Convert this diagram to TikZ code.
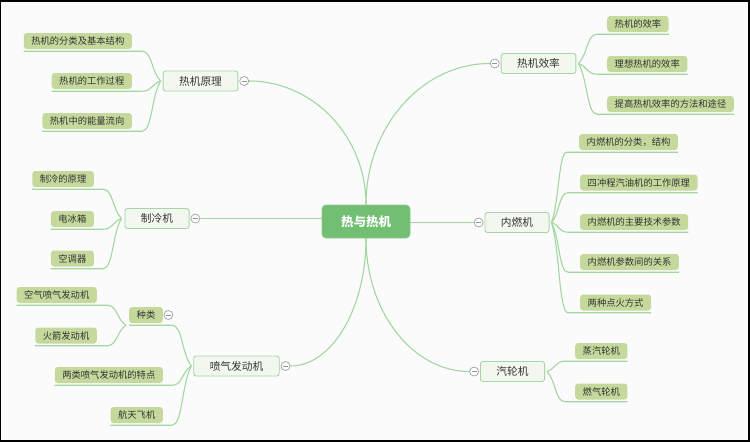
\documentclass[tikz,border=0pt]{standalone}
\usepackage{fontspec}
\newfontfamily\cjk{Noto Sans CJK SC}
\usetikzlibrary{calc}
\definecolor{linec}{HTML}{A3D7A0}
\definecolor{leaff}{HTML}{C6D99C}
\definecolor{subf}{HTML}{F2F8F0}
\definecolor{subd}{HTML}{A6D7A2}
\definecolor{cenf}{HTML}{72BF74}
\definecolor{bgc}{HTML}{FBFBFB}
\definecolor{txt}{HTML}{333333}
\pgfdeclarelayer{bgl}\pgfdeclarelayer{lines}\pgfsetlayers{bgl,lines,main}
\begin{document}
\begin{tikzpicture}[x=1pt,y=-1pt,
 leaf/.style={fill=leaff, rounded corners=3pt, minimum height=16pt, inner xsep=7.5pt, inner ysep=0pt, font=\cjk\fontsize{9.3}{11}\selectfont, text=txt},
 sub/.style={fill=subf, draw=subd, line width=0.9pt, rounded corners=2.5pt, minimum height=20pt, inner xsep=16pt, inner ysep=0pt, font=\cjk\fontsize{10.7}{12}\selectfont, text=txt},
 hubnode/.style={fill=cenf, draw=cenf!80!white, line width=0.8pt, rounded corners=4pt, minimum height=33pt, inner xsep=19pt, inner ysep=0pt, font=\cjk\bfseries\fontsize{12.5}{14}\selectfont, text=white},
 fold/.style={circle, draw=gray!75, fill=white, line width=0.7pt, minimum size=9pt, inner sep=0pt, path picture={\draw[gray!85,line width=0.7pt] ([xshift=-2.6pt]path picture bounding box.center) -- ([xshift=2.6pt]path picture bounding box.center);}},
 conn/.style={draw=linec, line width=1.1pt},
 branch/.style={to path={let \p1=(\tikztostart), \p2=(\tikztotarget) in .. controls ({\x1+0.5*(\x2-\x1)},{\y1+0.3*(\y2-\y1)}) and ({\x1+0.45*(\x2-\x1)},\y2) .. (\tikztotarget)}},
 mainarc/.style={to path={let \p1=(\tikztostart), \p2=(\tikztotarget) in .. controls (\x1,{\y1+0.55*(\y2-\y1)}) and ({\x2+0.55*(\x1-\x2)},\y2) .. (\tikztotarget)}},
]
\useasboundingbox (0,0) rectangle (750,442);
\begin{pgfonlayer}{bgl}
\fill[black] (0,0) rectangle (750,442);
\fill[bgc] (1,1.5) rectangle (747.5,439.5);
\end{pgfonlayer}

% central and main topics
\node[hubnode] (c) at (366,221.5) {热与热机};
\node[sub] (k1) at (200.5,81) {热机原理};
\node[sub] (k2) at (538.5,63.5) {热机效率};
\node[sub] (k3) at (157,218.5) {制冷机};
\node[sub] (k4) at (517,222.5) {内燃机};
\node[sub] (k5) at (236.5,366) {喷气发动机};
\node[sub] (k6) at (512.5,371.5) {汽轮机};

\node[fold, anchor=west] (k1f) at ([shift={(1,0)}]k1.east) {};
\node[fold, anchor=west] (k3f) at ([shift={(1,0)}]k3.east) {};
\node[fold, anchor=west] (k5f) at ([shift={(1,0)}]k5.east) {};
\node[fold, anchor=east] (k2f) at ([shift={(-1,0)}]k2.west) {};
\node[fold, anchor=east] (k4f) at ([shift={(-1,0)}]k4.west) {};
\node[fold, anchor=east] (k6f) at ([shift={(-1,0)}]k6.west) {};

% leaves
\node[leaf, anchor=east] (a1) at (132,41) {热机的分类及基本结构};
\node[leaf, anchor=east] (a2) at (132,81) {热机的工作过程};
\node[leaf, anchor=east] (a3) at (132,121) {热机中的能量流向};

\node[leaf, anchor=west] (b1) at (607,24) {热机的效率};
\node[leaf, anchor=west] (b2) at (607,64) {理想热机的效率};
\node[leaf, anchor=west] (b3) at (607,104) {提高热机效率的方法和途径};

\node[leaf, anchor=east] (c1) at (94,179) {制冷的原理};
\node[leaf, anchor=east] (c2) at (94,219) {电冰箱};
\node[leaf, anchor=east] (c3) at (94,258.5) {空调器};

\node[leaf, anchor=west] (d1) at (579,142) {内燃机的分类，结构};
\node[leaf, anchor=west] (d2) at (580,182.5) {四冲程汽油机的工作原理};
\node[leaf, anchor=west] (d3) at (580,222) {内燃机的主要技术参数};
\node[leaf, anchor=west] (d4) at (580,262) {内燃机参数间的关系};
\node[leaf, anchor=west] (d5) at (580,302.5) {两种点火方式};

\node[leaf, anchor=west] (e1) at (575,351) {蒸汽轮机};
\node[leaf, anchor=west] (e2) at (575,391.5) {燃气轮机};

\node[leaf, anchor=east] (f1) at (163,315) {种类};
\node[leaf, anchor=east] (f2) at (163,375) {两类喷气发动机的特点};
\node[leaf, anchor=east] (f3) at (163,415) {航天飞机};
\node[fold, anchor=west] (f1f) at ([shift={(0.5,0)}]f1.east) {};

\node[leaf, anchor=east] (g1) at (97,295) {空气喷气发动机};
\node[leaf, anchor=east] (g2) at (97,335.5) {火箭发动机};

% connectors
\begin{pgfonlayer}{lines}
\draw[conn] (c.north) to[mainarc] (k1f.east);
\draw[conn] (c.north) to[mainarc] (k2f.west);
\draw[conn] (c.south) to[mainarc] (k5f.east);
\draw[conn] (c.south) to[mainarc] (k6f.west);
\draw[conn] (k3f.east) -- (k3f.east -| c.west);
\draw[conn] (k4f.west -| c.east) -- (k4f.west);

\foreach \l in {a1,a2,a3}
  \draw[conn] ([shift={(-2,0)}]k1.west) to[branch] ([shift={(10,2)}]\l.south east) -- ([shift={(0,2)}]\l.south west);
\foreach \l in {c1,c2,c3}
  \draw[conn] ([shift={(-3,0)}]k3.west) to[branch] ([shift={(9,2)}]\l.south east) -- ([shift={(0,2)}]\l.south west);
\foreach \l in {f1,f2,f3}
  \draw[conn] ([shift={(-2,0)}]k5.west) to[branch] ([shift={(9,2)}]\l.south east) -- ([shift={(0,2)}]\l.south west);
\foreach \l in {g1,g2}
  \draw[conn] ([shift={(-3,2)}]f1.south west) to[branch] ([shift={(10,2)}]\l.south east) -- ([shift={(0,2)}]\l.south west);
\foreach \l in {b1,b2,b3}
  \draw[conn] ([shift={(2,0)}]k2.east) to[branch] ([shift={(-10,2)}]\l.south west) -- ([shift={(0,2)}]\l.south east);
\foreach \l in {d1,d2,d3,d4,d5}
  \draw[conn] ([shift={(2,0)}]k4.east) to[branch] ([shift={(-12,2)}]\l.south west) -- ([shift={(0,2)}]\l.south east);
\foreach \l in {e1,e2}
  \draw[conn] ([shift={(2,0)}]k6.east) to[branch] ([shift={(-10,2)}]\l.south west) -- ([shift={(0,2)}]\l.south east);
\end{pgfonlayer}
\end{tikzpicture}
\end{document}
